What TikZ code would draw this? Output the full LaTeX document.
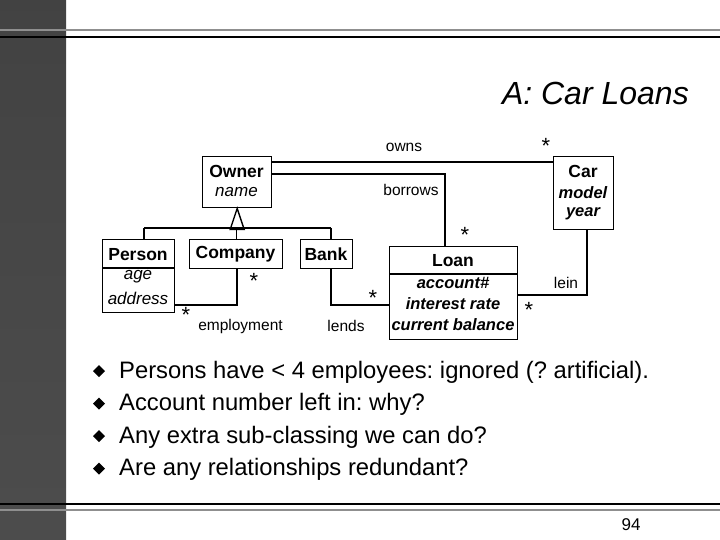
\documentclass[tikz,border=0pt]{standalone}
\usepackage{fontspec}
\setmainfont{Liberation Sans}
\begin{document}
\frenchspacing
\begin{tikzpicture}[x=1pt,y=-1pt,
  box/.style={draw,line width=1.4pt,inner sep=0pt,anchor=north west},
  conn/.style={line width=1.4pt},
  cls/.style={font=\fontsize{17.5}{17.5}\selectfont\bfseries,inner sep=0pt},
  att/.style={font=\fontsize{17}{17}\selectfont\itshape,inner sep=0pt},
  batt/.style={font=\fontsize{16.5}{16.5}\selectfont\bfseries\itshape,inner sep=0pt},
  lbl/.style={font=\fontsize{15.5}{15.5}\selectfont,inner sep=0pt},
  mult/.style={font=\fontsize{22}{22}\selectfont,inner sep=0pt},
  bul/.style={font=\fontsize{23.8}{23.8}\selectfont,anchor=base west,inner sep=0pt},
]
\useasboundingbox (0,0) rectangle (720,540);
\shade[top color=black!74, bottom color=black!70] (0,0) rectangle (66,540);
\draw[line width=2pt, black!44] (0,30) -- (720,30);
\draw[line width=2pt, black] (0,37) -- (720,37);
\draw[line width=2pt, black] (0,504) -- (720,504);
\draw[line width=2pt, black!44] (0,510) -- (720,510);

\node[anchor=east,inner sep=0pt,font=\fontsize{32}{32}\selectfont\itshape] (title) at (689,93) {A: Car Loans};

% class boxes
\node[box,minimum width=69pt,minimum height=51pt] (owner) at (202,156) {};
\node[box,minimum width=60pt,minimum height=73pt] (car) at (553,156) {};
\node[box,minimum width=72pt,minimum height=73pt] (person) at (102,239) {};
\node[box,minimum width=93pt,minimum height=29pt] (company) at (189,239) {};
\node[box,minimum width=52pt,minimum height=29pt] (bank) at (300,239) {};
\node[box,minimum width=128pt,minimum height=93pt] (loan) at (389,246) {};

\coordinate (pdiv) at (0,268);
\coordinate (ldiv) at (0,274);
\draw[conn] (person.west |- pdiv) -- (person.east |- pdiv);
\draw[conn] (loan.west |- ldiv) -- (loan.east |- ldiv);

% texts
\node[cls] (ownerT) at (236.5,171) {Owner};
\node[att] (ownerA) at (236.5,192) {name};
\node[cls] (carT) at (583,171) {Car};
\node[batt] (carA1) at (583,193) {model};
\node[batt] (carA2) at (583,214) {year};
\node[cls] (personT) at (138,254.5) {Person};
\node[att] (personA1) at (138,277) {age};
\node[att] (personA2) at (138,298) {address};
\node[cls] (companyT) at (235.5,254.5) {Company};
\node[cls] (bankT) at (326,254.5) {Bank};
\node[cls] (loanT) at (453,260.5) {Loan};
\node[batt] (loanA1) at (453,283) {account\#};
\node[batt] (loanA2) at (453,304) {interest rate};
\node[batt] (loanA3) at (453,325) {current balance};

% generalization
\coordinate (gb) at (236.5,228);
\coordinate (pv) at (144,228);
\coordinate (bv) at (331,228);
\draw[conn,line join=miter] (owner.south) -- ++(-7,21) -- ++(14,0) -- cycle;
\draw[conn] (pv) -- (bv);
\draw[conn] (pv) -- (pv |- person.north);
\draw[conn] (gb) -- (gb |- company.north);
\draw[conn] (bv) -- (bv |- bank.north);

% associations
\coordinate (oy) at (0,162);
\coordinate (by) at (445,174);
\coordinate (ev) at (237,305);
\coordinate (lv) at (331,305);
\coordinate (ly) at (587,295);
\draw[conn] (owner.east |- oy) -- (car.west |- oy);
\draw[conn] (owner.east |- by) -- (by) -- (by |- loan.north);
\draw[conn] (ev |- company.south) -- (ev) -- (ev -| person.east);
\draw[conn] (lv |- bank.south) -- (lv) -- (lv -| loan.west);
\draw[conn] (ly |- car.south) -- (ly) -- (ly -| loan.east);

% labels
\node[lbl] (owns) at (404,147) {owns};
\node[lbl] (borrows) at (411,190) {borrows};
\node[lbl] (employment) at (240.5,326) {employment};
\node[lbl] (lends) at (346,326) {lends};
\node[lbl] (lein) at (566,283) {lein};
\node[mult] (m1) at (546,146) {*};
\node[mult] (m2) at (465,235) {*};
\node[mult] (m3) at (254,281) {*};
\node[mult] (m4) at (186,315) {*};
\node[mult] (m5) at (373,298) {*};
\node[mult] (m6) at (529,309.5) {*};

% bullets
\foreach \yy in {371,403.5,436,468.5} {
  \fill (99,\yy-6) -- (105,\yy) -- (99,\yy+6) -- (93,\yy) -- cycle;
}
\node[bul] (b1) at (119,378) {Persons have < 4 employees: ignored (? artificial).};
\node[bul] (b2) at (119,410.5) {Account number left in: why?};
\node[bul] (b3) at (119,443) {Any extra sub-classing we can do?};
\node[bul] (b4) at (119,475.5) {Are any relationships redundant?};

\node[inner sep=0pt,font=\fontsize{17}{17}\selectfont] (pg) at (631,525) {94};
\end{tikzpicture}
\end{document}
